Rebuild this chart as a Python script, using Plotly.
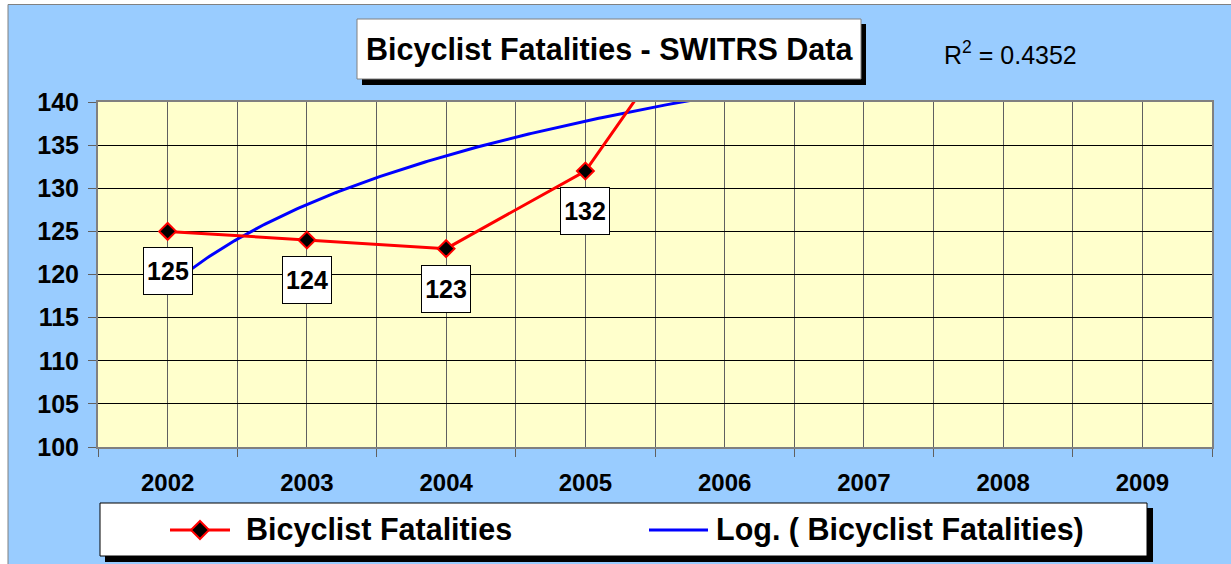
import numpy as np
import plotly.graph_objects as go

# ---- data ----
years = ["2002", "2003", "2004", "2005", "2006", "2007", "2008", "2009"]
fatalities = [125, 124, 123, 132, 155]
r2_text = "R<sup>2</sup> = 0.4352"
title_text = "Bicyclist Fatalities - SWITRS Data"
series_name = "Bicyclist Fatalities"
trend_name = "Log. ( Bicyclist Fatalities)"
y_ticks = [100, 105, 110, 115, 120, 125, 130, 135, 140]

# ---- layout geometry (pixels) ----
WIDTH, HEIGHT = 1231, 564
L, R, T, B = 98, 1212, 102, 447
PW, PH = R - L, B - T


def px(x):
    return (x - L) / PW


def py(y):
    return (B - y) / PH


FONT = "Liberation Sans, Arial, sans-serif"

# Excel-style logarithmic trendline fitted on the data (x = 1..n)
t_data = np.arange(1, len(fatalities) + 1)
a, b = np.polyfit(np.log(t_data), np.array(fatalities, dtype=float), 1)
t_line = np.linspace(1, len(fatalities), 200)
trend_vals = a * np.log(t_line) + b

fig = go.Figure()
fig.add_trace(go.Scatter(
    x=t_line - 1, y=trend_vals, mode="lines",
    line=dict(color="#0000FF", width=3), name=trend_name, hoverinfo="skip"))
fig.add_trace(go.Scatter(
    x=list(range(len(fatalities))), y=fatalities, mode="lines+markers",
    line=dict(color="#FF0000", width=3),
    marker=dict(symbol="diamond", size=13, color="black",
                line=dict(color="#FF0000", width=2)),
    name=series_name, cliponaxis=True))

annotations = []
for i, v in enumerate(fatalities):
    if y_ticks[0] <= v <= y_ticks[-1]:
        annotations.append(dict(
            x=i, y=v, xref="x", yref="y", yshift=-40, showarrow=False,
            text=f"<b>{v}</b>", font=dict(family=FONT, size=25, color="black"),
            bgcolor="white", bordercolor="black", borderwidth=1, borderpad=0,
            width=48, height=46, xanchor="center", yanchor="middle"))

annotations += [
    dict(x=px(609), y=py(49), xref="paper", yref="paper", showarrow=False,
         text=f"<b>{title_text}</b>", font=dict(family=FONT, size=30.5, color="black"),
         xanchor="center", yanchor="middle"),
    dict(x=px(1010), y=py(53), xref="paper", yref="paper", showarrow=False,
         text=r2_text, font=dict(family=FONT, size=25, color="black"),
         xanchor="center", yanchor="middle"),
    dict(x=px(244), y=py(529), xref="paper", yref="paper", showarrow=False,
         text=f"<b>{series_name}</b>", font=dict(family=FONT, size=30.5, color="black"),
         xanchor="left", yanchor="middle"),
    dict(x=px(714), y=py(529), xref="paper", yref="paper", showarrow=False,
         text=f"<b>{trend_name}</b>", font=dict(family=FONT, size=30.5, color="black"),
         xanchor="left", yanchor="middle"),
]


def rect(x0, y0, x1, y1, fill, line_color=None, line_width=0, layer="above"):
    return dict(type="rect", xref="paper", yref="paper",
                x0=px(x0), x1=px(x1), y0=py(y1), y1=py(y0),
                fillcolor=fill, layer=layer,
                line=dict(color=line_color or fill, width=line_width))


def seg(x0, y0, x1, y1, color, width, layer="above"):
    return dict(type="line", xref="paper", yref="paper",
                x0=px(x0), x1=px(x1), y0=py(y0), y1=py(y1), layer=layer,
                line=dict(color=color, width=width))


dc, dy_, dh = 200, 530, 9
diamond_path = (f"M {px(dc - dh)},{py(dy_)} L {px(dc)},{py(dy_ - dh)} "
                f"L {px(dc + dh)},{py(dy_)} L {px(dc)},{py(dy_ + dh)} Z")

shapes = [
    rect(0, 0, 8, HEIGHT, "white", layer="below"),
    rect(0, 0, WIDTH, 4.5, "white", layer="below"),
    seg(8, 4.5, 8, HEIGHT, "#808080", 1, layer="below"),
    seg(8, 4.5, WIDTH, 4.5, "#808080", 1, layer="below"),
    # title box
    rect(362, 24, 866, 85, "black"),
    rect(357, 19, 861, 79, "white", "#808080", 1),
    # legend box
    rect(105, 508, 1153, 562, "black"),
    rect(100, 503, 1147, 556, "white", "black", 1),
    seg(170, 530, 230, 530, "#FF0000", 3),
    dict(type="path", xref="paper", yref="paper", path=diamond_path,
         fillcolor="black", line=dict(color="#FF0000", width=2), layer="above"),
    seg(649, 530, 708, 530, "#0000FF", 3),
]

fig.update_layout(
    width=WIDTH, height=HEIGHT,
    margin=dict(l=L, r=WIDTH - R, t=T, b=HEIGHT - B, pad=0),
    paper_bgcolor="#99CCFF", plot_bgcolor="#FFFFCC",
    showlegend=False,
    annotations=annotations, shapes=shapes,
    font=dict(family=FONT, color="black"),
)
fig.update_xaxes(
    range=[-0.5, len(years) - 0.5], tickmode="array",
    tickvals=list(range(len(years))), ticktext=years,
    ticks="", showgrid=True, gridcolor="#606060", gridwidth=1,
    tickfont=dict(family=FONT, size=24, color="black", weight="bold"),
    ticklabelstandoff=13,
    showline=True, linecolor="#808080", linewidth=2, mirror=True, zeroline=False,
    minor=dict(tickmode="array", tickvals=[i - 0.5 for i in range(len(years) + 1)],
               ticks="outside", ticklen=8, tickcolor="#606060", tickwidth=1,
               showgrid=True, gridcolor="#606060", gridwidth=1),
)
fig.update_yaxes(
    range=[y_ticks[0], y_ticks[-1]], tickmode="array", tickvals=y_ticks,
    ticks="outside", ticklen=8, tickcolor="#606060", tickwidth=1,
    showgrid=True, gridcolor="black", gridwidth=1,
    tickfont=dict(family=FONT, size=25, color="black", weight="bold"),
    ticklabelstandoff=4,
    showline=True, linecolor="#808080", linewidth=2, mirror=True, zeroline=False,
)

fig.write_html(
    "out.html",
    config={"displayModeBar": False},
    post_script="document.body.style.margin='0';document.body.style.overflow='hidden';",
)
